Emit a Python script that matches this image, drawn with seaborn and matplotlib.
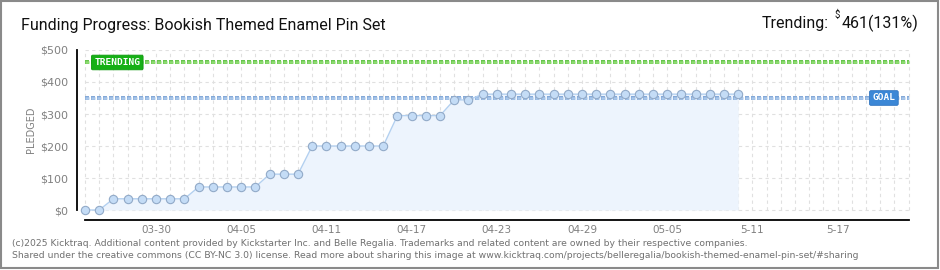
import numpy as np
import pandas as pd
import matplotlib
matplotlib.use('Agg')
import matplotlib.pyplot as plt
import matplotlib.patheffects as pe
import seaborn as sns
from matplotlib.patches import Rectangle

# daily pledged total, first point is 03-25
pledged = [0, 0,
           35, 35, 35, 35, 35, 35,
           72, 72, 72, 72, 72,
           112, 112, 112,
           200, 200, 200, 200, 200, 200,
           295, 295, 295, 295,
           344, 344,
           362, 362, 362, 362, 362, 362, 362, 362, 362, 362,
           362, 362, 362, 362, 362, 362, 362, 362, 362]
goal = 350
trending = 461
trending_pct = 131
n_days = 59  # campaign window 03-25 .. 05-22

tick_days = [5, 11, 17, 23, 29, 35, 41, 47, 53]
tick_labels = ['03-30', '04-05', '04-11', '04-17', '04-23', '04-29', '05-05', '5-11', '5-17']
y_ticks = [0, 100, 200, 300, 400, 500]
y_minor = [50, 150, 250, 350, 450]

title = 'Funding Progress: Bookish Themed Enamel Pin Set'
footer1 = ('(c)2025 Kicktraq. Additional content provided by Kickstarter Inc. and Belle Regalia. '
           'Trademarks and related content are owned by their respective companies.')
footer2 = ('Shared under the creative commons (CC BY-NC 3.0) license. Read more about sharing this image at '
           'www.kicktraq.com/projects/belleregalia/bookish-themed-enamel-pin-set/#sharing')

df = pd.DataFrame({'day': np.arange(len(pledged)), 'pledged': pledged})

sns.set_style('white')
plt.rcParams['font.family'] = ['DejaVu Sans']

narrow = ['Roboto', 'DejaVu Sans']

fig = plt.figure(figsize=(9.4, 2.7), dpi=100)
ax = fig.add_axes([76.5 / 940, 50 / 270, 846.3 / 940, 170 / 270])
ax.set_xlim(-0.6, 59)
ax.set_ylim(-31.25, 500)

# grid
ax.vlines(np.arange(n_days), 0, 500, colors='#e0e0e0', linestyles=(0, (3, 3)), lw=0.8, zorder=0)
ax.hlines(y_ticks, 0, n_days - 1, colors='#e0e0e0', linestyles=(0, (3, 3)), lw=0.8, zorder=0)

# area under pledges
ax.fill_between(df['day'], df['pledged'], 0, color='#edf4fd', lw=0, zorder=1)

# goal and trending lines
ax.hlines(goal, 0, n_days - 1, colors='#a9c7ea', lw=1.8, linestyles=(0, (1.6, 0.8)), zorder=2,
          path_effects=[pe.Stroke(linewidth=2.8, foreground='#7ea5d6'), pe.Normal()])
ax.hlines(trending, 0, n_days - 1, colors='#8edc72', lw=1.8, linestyles=(0, (1.6, 0.8)), zorder=2,
          path_effects=[pe.Stroke(linewidth=2.8, foreground='#5fc043'), pe.Normal()])

sns.lineplot(data=df, x='day', y='pledged', marker='o', markersize=6.0, color='#b3d0f0',
             linewidth=1, markerfacecolor='#c4dcf6', markeredgecolor='#92aac8',
             markeredgewidth=0.8, errorbar=None, ax=ax, zorder=4)

ax.text(0.65, trending, 'TRENDING', color='white', fontsize=6.8, fontweight='bold',
        family='DejaVu Sans Mono', va='center', ha='left', zorder=5,
        bbox=dict(boxstyle='round,pad=0.3,rounding_size=0.15', fc='#16b016', ec='#0e9a0e', lw=0.6))
ax.text(55.45, goal, 'GOAL', color='white', fontsize=6.8, fontweight='bold',
        family='DejaVu Sans Mono', va='center', ha='left', zorder=5,
        bbox=dict(boxstyle='round,pad=0.3,rounding_size=0.15', fc='#3b87d6', ec='#2f74c0', lw=0.6))

# axes cosmetics
ax.set_xlabel('')
ax.set_ylabel('')
for s in ['top', 'right']:
    ax.spines[s].set_visible(False)
ax.spines['left'].set_bounds(0, 500)
ax.spines['bottom'].set_bounds(0, n_days - 1)
for s in ['left', 'bottom']:
    ax.spines[s].set_color('black')
    ax.spines[s].set_linewidth(1.3)

lab = {d: t for d, t in zip(tick_days, tick_labels)}
ax.set_xticks(range(n_days))
ax.set_xticklabels([lab.get(d, '') for d in range(n_days)])
ax.tick_params(axis='x', direction='inout', length=5, width=1.1, color='black',
               labelsize=7.5, labelcolor='#808080', pad=1)
ax.set_yticks(y_ticks)
ax.set_yticklabels(['$' + str(v) for v in y_ticks])
ax.set_yticks(y_minor, minor=True)
ax.tick_params(axis='y', which='major', direction='out', length=3, width=1.1, color='black',
               labelsize=8, labelcolor='#808080', pad=3)
ax.tick_params(axis='y', which='minor', direction='out', length=2.5, width=1, color='#ee1111')

fig.text(31 / 940, 1 - 130 / 270, 'PLEDGED', rotation=90, va='center', ha='center',
         fontsize=7, color='#808080')

# header
fig.text(21 / 940, 1 - 30 / 270, title, fontsize=11.5, color='#111111', family=narrow,
         va='baseline')
fig.canvas.draw()
t1 = fig.text(918 / 940, 1 - 28 / 270, f'{trending}({trending_pct}%)', fontsize=11.5, color='#111111',
              family=narrow, ha='right', va='baseline')
fig.canvas.draw()
bb = t1.get_window_extent()
t2 = fig.text((bb.x0 - 1) / 940, 1 - 18 / 270, '$', fontsize=7, color='#111111',
              family=narrow, ha='right', va='baseline')
fig.canvas.draw()
bb2 = t2.get_window_extent()
fig.text((bb2.x0 - 6) / 940, 1 - 28 / 270, 'Trending:', fontsize=11.5, color='#111111',
         family=narrow, ha='right', va='baseline')

# footer
fig.text(12 / 940, 1 - 246 / 270, footer1, fontsize=6.65, color='#707070')
fig.text(12 / 940, 1 - 258 / 270, footer2, fontsize=6.65, color='#707070')

fig.patches.append(Rectangle((1 / 940, 2 / 270), 937 / 940, 267 / 270, transform=fig.transFigure,
                             fill=False, edgecolor='#8a8a8a', lw=1.5))

fig.savefig('out.png', dpi=100)
